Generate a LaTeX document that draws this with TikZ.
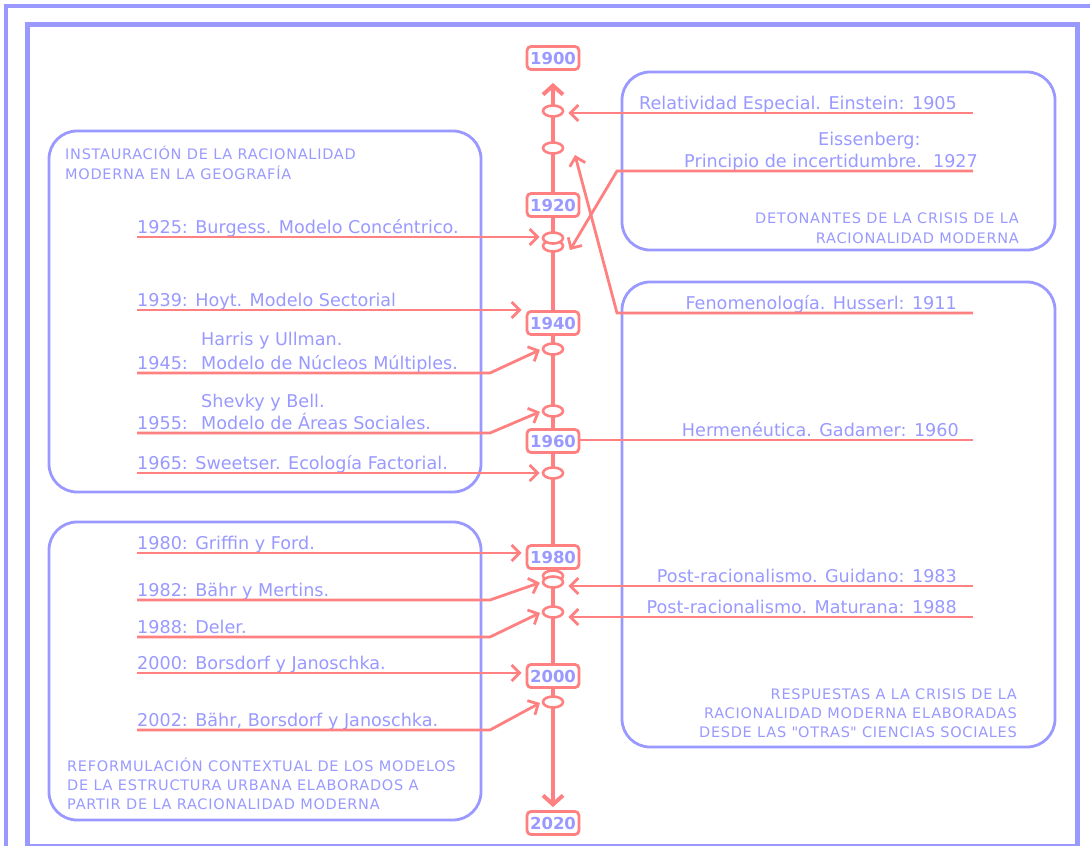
\documentclass[tikz,border=0pt]{standalone}
\usepackage{fontspec}
\setmainfont{DejaVu Sans}
\usetikzlibrary{arrows.meta,backgrounds,shapes.geometric}
\definecolor{purp}{RGB}{153,153,255}
\definecolor{redd}{RGB}{255,128,128}
\tikzset{
  framestyle/.style={draw=purp},
  grp/.style={draw=purp, line width=2.8pt, rounded corners=28pt},
  yearbox/.style={draw=redd, line width=2.8pt, fill=white, rounded corners=4pt,
    minimum width=52pt, minimum height=23pt, inner sep=0pt, text=purp,
    font=\bfseries\fontsize{16.5}{16.5}\selectfont},
  evt/.style={ellipse, draw=redd, line width=2.6pt, fill=white,
    minimum width=20pt, minimum height=11pt, inner sep=0pt},
  conn/.style={draw=redd, line width=2.8pt, -{Straight Barb[length=8pt,width=16pt]}},
  plainconn/.style={draw=redd, line width=2.8pt},
  axis/.style={draw=redd, line width=4pt, -{Straight Barb[length=9pt,width=20pt]}},
  lbl/.style={text=purp, font=\fontsize{17.6}{20}\selectfont, inner sep=0pt},
  head/.style={text=purp, font=\fontsize{14.5}{19}\selectfont\addfontfeature{LetterSpace=5}, inner sep=0pt},
}
\begin{document}
\begin{tikzpicture}[x=1pt,y=-1pt]
\useasboundingbox (0,0) rectangle (1090,846);
% frames
\draw[framestyle, line width=3.5pt] (6,846) -- (6,6) -- (1090,6);
\draw[framestyle, line width=5pt] (27,846) -- (27,24) -- (1077,24) -- (1077,846);
\draw[framestyle, line width=2pt] (27,845) -- (1077,845);
% group boxes
\draw[grp] (49,131) rectangle (481,492);
\draw[grp] (49,522) rectangle (481,820);
\draw[grp] (622,72) rectangle (1055,250);
\draw[grp] (622,282) rectangle (1055,747);
% headings
\node[head, anchor=base west] (h1a) at (65,159) {INSTAURACIÓN DE LA RACIONALIDAD};
\node[head, anchor=base west] (h1b) at (65,179) {MODERNA EN LA GEOGRAFÍA};
\node[head, anchor=base east] (h2a) at (1019,223) {DETONANTES DE LA CRISIS DE LA};
\node[head, anchor=base east] (h2b) at (1019,243) {RACIONALIDAD MODERNA};
\node[head, anchor=base east] (h3a) at (1017,699) {RESPUESTAS A LA CRISIS DE LA};
\node[head, anchor=base east] (h3b) at (1017,718) {RACIONALIDAD MODERNA ELABORADAS};
\node[head, anchor=base east] (h3c) at (1017,737) {DESDE LAS \textquotedbl OTRAS\textquotedbl{} CIENCIAS SOCIALES};
\node[head, anchor=base west] (h4a) at (67,771) {REFORMULACIÓN CONTEXTUAL DE LOS MODELOS};
\node[head, anchor=base west] (h4b) at (67,790) {DE LA ESTRUCTURA URBANA ELABORADOS A};
\node[head, anchor=base west] (h4c) at (67,809) {PARTIR DE LA RACIONALIDAD MODERNA};
% left labels
\node[lbl, anchor=base west] (t1925) at (137,233) {1925: Burgess. Modelo Concéntrico.};
\node[lbl, anchor=base west] (t1939) at (137,306) {1939: Hoyt. Modelo Sectorial};
\node[lbl, anchor=base west] (t1945a) at (201,345) {Harris y Ullman.};
\node[lbl, anchor=base west] (t1945) at (137,369) {1945:};
\node[lbl, anchor=base west] (t1945b) at (201,369) {Modelo de Núcleos Múltiples.};
\node[lbl, anchor=base west] (t1955a) at (201,407) {Shevky y Bell.};
\node[lbl, anchor=base west] (t1955) at (137,429) {1955:};
\node[lbl, anchor=base west] (t1955b) at (201,429) {Modelo de Áreas Sociales.};
\node[lbl, anchor=base west] (t1965) at (137,469) {1965: Sweetser. Ecología Factorial.};
\node[lbl, anchor=base west] (t1980) at (137,549) {1980: Griffin y Ford.};
\node[lbl, anchor=base west] (t1982) at (137,596) {1982: Bähr y Mertins.};
\node[lbl, anchor=base west] (t1988) at (137,633) {1988: Deler.};
\node[lbl, anchor=base west] (t2000) at (137,669) {2000: Borsdorf y Janoschka.};
\node[lbl, anchor=base west] (t2002) at (137,726) {2002: Bähr, Borsdorf y Janoschka.};
% right labels
\node[lbl, anchor=base east] (r1905) at (957,109) {Relatividad Especial. Einstein: 1905};
\node[lbl, anchor=base west] (r1927a) at (818,145) {Eissenberg:};
\node[lbl, anchor=base west] (r1927) at (684,167) {Principio de incertidumbre.\ \ 1927};
\node[lbl, anchor=base east] (r1911) at (957,309) {Fenomenología. Husserl: 1911};
\node[lbl, anchor=base east] (r1960) at (959,436) {Hermenéutica. Gadamer: 1960};
\node[lbl, anchor=base east] (r1983) at (957,582) {Post-racionalismo. Guidano: 1983};
\node[lbl, anchor=base east] (r1988) at (957,613) {Post-racionalismo. Maturana: 1988};
% year boxes
\node[yearbox] (y1900) at (553,58) {1900};
\node[yearbox] (y1920) at (553,205) {1920};
\node[yearbox] (y1940) at (553,323) {1940};
\node[yearbox] (y1960) at (553,441) {1960};
\node[yearbox] (y1980) at (553,557) {1980};
\node[yearbox] (y2000) at (553,676) {2000};
\node[yearbox] (y2020) at (553,823) {2020};
% event ellipses
\node[evt] (e1) at (553,111) {};
\node[evt] (e2) at (553,148) {};
\node[evt] (e3b) at (553,246) {};
\node[evt] (e3a) at (553,238) {};
\node[evt] (e4) at (553,349) {};
\node[evt] (e5) at (553,411) {};
\node[evt] (e6) at (553,473) {};
\node[evt] (e7a) at (553,576) {};
\node[evt] (e7b) at (553,582) {};
\node[evt] (e8) at (553,612) {};
\node[evt] (e9) at (553,702) {};
% timeline
\begin{scope}[on background layer]
\draw[axis, shorten >=12pt] (y1940.north) -- (y1900.south);
\draw[axis, shorten >=3pt] (y1940.south) -- (y2020.north);
\end{scope}
% left connectors
\coordinate (s1925) at (137,237);
\draw[conn, shorten >=2pt] (s1925) -- (s1925 -| e3a.west);
\coordinate (s1939) at (137,310);
\draw[conn, shorten >=4pt] (s1939) -- (s1939 -| y1940.west);
\coordinate (s1945) at (137,373); \coordinate (k1945) at (490,373);
\draw[conn, shorten >=2pt] (s1945) -- (k1945) -- (e4.west);
\coordinate (s1955) at (137,433); \coordinate (k1955) at (490,433);
\draw[conn, shorten >=2pt] (s1955) -- (k1955) -- (e5.west);
\coordinate (s1965) at (137,473);
\draw[conn, shorten >=2pt] (s1965) -- (s1965 -| e6.west);
\coordinate (s1980) at (137,553);
\draw[conn, shorten >=4pt] (s1980) -- (s1980 -| y1980.west);
\coordinate (s1982) at (137,600); \coordinate (k1982) at (490,600);
\draw[conn, shorten >=2pt] (s1982) -- (k1982) -- (e7b.west);
\coordinate (s1988) at (137,637); \coordinate (k1988) at (490,637);
\draw[conn, shorten >=2pt] (s1988) -- (k1988) -- (e8.west);
\coordinate (s2000) at (137,673);
\draw[conn, shorten >=4pt] (s2000) -- (s2000 -| y2000.west);
\coordinate (s2002) at (137,730); \coordinate (k2002) at (490,730);
\draw[conn, shorten >=2pt] (s2002) -- (k2002) -- (e9.west);
% right connectors
\coordinate (s1905) at (973,113);
\draw[conn, shorten >=4pt] (s1905) -- (s1905 -| e1.east);
\coordinate (s1927) at (973,171); \coordinate (k1927) at (617,171); \coordinate (q1927) at (570,250);
\draw[conn] (s1927) -- (k1927) -- (q1927);
\coordinate (s1911) at (973,313); \coordinate (k1911) at (617,313); \coordinate (q1911) at (575,155);
\draw[conn] (s1911) -- (k1911) -- (q1911);
\coordinate (s1960) at (973,440);
\draw[plainconn] (s1960) -- (s1960 -| y1960.east);
\coordinate (s1983) at (973,586);
\draw[conn, shorten >=4pt] (s1983) -- (s1983 -| e7b.east);
\coordinate (s1988r) at (973,617);
\draw[conn, shorten >=4pt] (s1988r) -- (s1988r -| e8.east);
\end{tikzpicture}
\end{document}
